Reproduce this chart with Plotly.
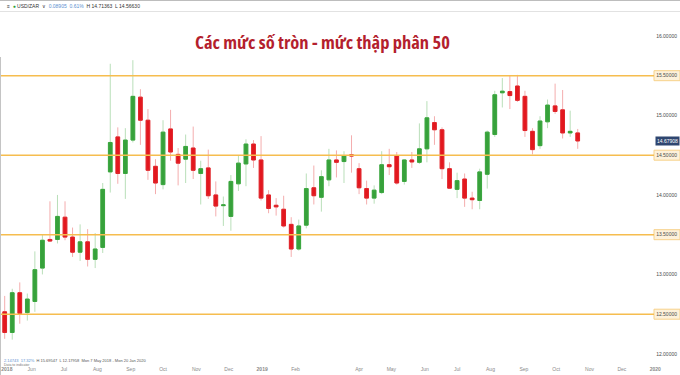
import numpy as np
import pandas as pd
import plotly.graph_objects as go

# ---------------- data (weekly USD/ZAR candles) ----------------
start_date = "2018-05-07"
n_weeks = 77
dates = pd.date_range(start_date, periods=n_weeks, freq="7D")

opens = [12.53, 12.27, 12.77, 12.52, 12.66, 13.08, 13.44, 13.44, 13.72, 13.47,
         13.28, 13.41, 13.19, 13.34, 14.29, 14.73, 14.27, 14.69, 15.23, 14.94,
         14.36, 14.13, 14.83, 14.51, 14.45, 14.59, 14.27, 14.34, 14.00, 13.865,
         13.73, 14.14, 14.39, 14.64, 14.44, 14.00, 13.87, 13.82, 13.63, 13.32,
         13.62, 14.09, 13.97, 14.19, 14.44, 14.42, 14.505, 14.33, 14.08, 13.96,
         14.03, 14.38, 14.49, 14.17, 14.44, 14.41, 14.58, 14.91, 14.82, 14.33,
         14.07, 14.20, 13.96, 13.93, 14.26, 14.76, 15.285, 15.30, 15.37, 15.24,
         14.80, 14.62, 14.92, 15.12, 15.07, 14.78, 14.78]
highs = [12.73, 12.82, 12.90, 12.76, 13.29, 13.50, 13.92, 14.00, 13.92, 13.59,
         13.63, 13.57, 13.52, 14.15, 15.65, 14.85, 14.84, 15.695, 15.33, 15.08,
         14.45, 14.94, 15.07, 14.59, 14.76, 14.86, 14.43, 14.57, 14.17, 13.98,
         14.25, 14.49, 14.70, 14.69, 14.74, 14.06, 13.96, 13.99, 13.72, 13.69,
         14.27, 14.37, 14.31, 14.58, 14.56, 14.55, 14.75, 14.40, 14.18, 14.12,
         14.55, 14.58, 14.54, 14.45, 14.54, 14.90, 15.18, 14.99, 14.85, 14.41,
         14.28, 14.27, 14.04, 14.33, 14.81, 15.31, 15.47, 15.50, 15.51, 15.31,
         14.84, 14.99, 15.20, 15.40, 15.32, 15.06, 14.83]
lows = [12.19, 12.18, 12.38, 12.42, 12.53, 13.00, 13.41, 13.39, 13.43, 13.22,
        13.17, 13.10, 13.08, 13.27, 14.03, 14.14, 13.95, 14.66, 14.63, 14.19,
        14.01, 14.07, 14.43, 14.12, 14.15, 14.20, 13.88, 13.95, 13.73, 13.61,
        13.55, 14.05, 14.11, 14.34, 13.93, 13.77, 13.74, 13.59, 13.22, 13.30,
        13.58, 13.88, 13.79, 14.11, 14.22, 14.15, 14.28, 14.01, 13.88, 13.89,
        14.01, 14.25, 14.13, 14.13, 14.34, 14.39, 14.41, 14.63, 14.20, 14.08,
        13.96, 13.85, 13.82, 13.82, 14.08, 14.73, 15.10, 15.08, 15.17, 14.73,
        14.51, 14.58, 14.84, 15.02, 14.71, 14.73, 14.58]
closes = [12.27, 12.77, 12.51, 12.69, 13.06, 13.43, 13.42, 13.73, 13.47, 13.28,
          13.41, 13.19, 13.32, 14.07, 14.66, 14.27, 14.69, 15.24, 14.94, 14.31,
          14.15, 14.79, 14.54, 14.40, 14.61, 14.31, 14.33, 13.99, 13.86, 13.875,
          14.17, 14.40, 14.64, 14.44, 13.96, 13.83, 13.85, 13.61, 13.32, 13.61,
          14.08, 13.99, 14.23, 14.44, 14.41, 14.49, 14.49, 14.09, 13.96, 14.06,
          14.38, 14.355, 14.15, 14.44, 14.415, 14.58, 14.97, 14.82, 14.33, 14.085,
          14.18, 13.96, 13.94, 14.29, 14.79, 15.26, 15.305, 15.25, 15.19, 14.81,
          14.57, 14.93, 15.13, 15.05, 14.78, 14.80, 14.67908]

round_levels = [12.5, 13.5, 14.5, 15.5]
y_tick_vals = [12.0, 12.5, 13.0, 13.5, 14.0, 14.5, 15.0, 15.5, 16.0]
y_tick_text = ["%.5f" % v for v in y_tick_vals]

x_tick_dates = ["2018-05-09", "2018-06-01", "2018-07-01", "2018-08-01", "2018-09-01",
                "2018-10-01", "2018-11-01", "2018-12-01", "2019-01-01", "2019-02-01",
                "2019-04-01", "2019-05-01", "2019-06-01", "2019-07-01", "2019-08-01",
                "2019-09-01", "2019-10-01", "2019-11-01", "2019-12-01", "2020-01-01"]
x_tick_labels = ["2018", "Jun", "Jul", "Aug", "Sep", "Oct", "Nov", "Dec", "2019", "Feb",
                 "Apr", "May", "Jun", "Jul", "Aug", "Sep", "Oct", "Nov", "Dec", "2020"]

title_text = "Các mức số tròn - mức thập phân 50"

# ---------------- geometry ----------------
W, H = 680, 375
M_T, M_B = 12, 10
plot_h = H - M_T - M_B
px_per_day = 1.0771
first_px = 4.7
t0 = pd.Timestamp(start_date)
x_range = [(t0 - pd.Timedelta(days=first_px / px_per_day)).strftime("%Y-%m-%d %H:%M:%S"),
           (t0 + pd.Timedelta(days=(W - first_px) / px_per_day)).strftime("%Y-%m-%d %H:%M:%S")]
y_range = [11.861, 16.301]
px_per_unit = plot_h / (y_range[1] - y_range[0])


def py(Y):  # pixel row -> paper y
    return (H - M_B - Y) / plot_h


body_hi = np.maximum(opens, closes)
body_lo = np.minimum(opens, closes)

INC_WICK, DEC_WICK = "#b9dfb9", "#f4adae"
INC_FILL, DEC_FILL = "#37a13b", "#e3171e"
INC_EDGE, DEC_EDGE = "#3aa63e", "#e0242a"

fig = go.Figure()
fig.add_trace(go.Candlestick(
    x=dates, open=opens, high=highs, low=lows, close=closes,
    increasing=dict(line=dict(color=INC_WICK, width=1), fillcolor=INC_WICK),
    decreasing=dict(line=dict(color=DEC_WICK, width=1), fillcolor=DEC_WICK),
    whiskerwidth=0, hoverinfo="skip", showlegend=False))
fig.add_trace(go.Candlestick(
    x=dates, open=opens, high=body_hi, low=body_lo, close=closes,
    increasing=dict(line=dict(color=INC_EDGE, width=1), fillcolor=INC_FILL),
    decreasing=dict(line=dict(color=DEC_EDGE, width=1), fillcolor=DEC_FILL),
    whiskerwidth=0, hoverinfo="skip", showlegend=False))

shapes = []
box_left = 654 / W
half_box = 5 / px_per_unit
for lvl in round_levels:
    shapes.append(dict(type="line", xref="paper", yref="y", x0=0, x1=box_left,
                       y0=lvl, y1=lvl, line=dict(color="#f6bd4f", width=1.5),
                       layer="above"))
    shapes.append(dict(type="rect", xref="paper", yref="y", x0=box_left, x1=1.0,
                       y0=lvl - half_box, y1=lvl + half_box,
                       fillcolor="#fdf1da", line=dict(color="#f7d18a", width=1),
                       layer="below"))
# frame lines of the screenshot
shapes.append(dict(type="line", xref="paper", yref="paper", x0=0, x1=1,
                   y0=py(0.5), y1=py(0.5), line=dict(color="#bdbdbd", width=1)))
shapes.append(dict(type="line", xref="paper", yref="paper", x0=0, x1=1,
                   y0=py(11.5), y1=py(11.5), line=dict(color="#e2e2e2", width=1)))
shapes.append(dict(type="line", xref="paper", yref="paper", x0=0.5 / W, x1=0.5 / W,
                   y0=py(57), y1=py(375), line=dict(color="#c4c4c4", width=1)))

annotations = [
    dict(text="<span style='font-stretch:75%'>" + title_text + "</span>",
         xref="paper", yref="paper", x=322 / W, y=py(42),
         xanchor="center", yanchor="middle", showarrow=False,
         font=dict(family="Open Sans, sans-serif",
                   size=18.5, color="#b41f2e", weight="bold")),
    dict(text="≡  <span style='color:#2e9e3a'>●</span> USD/ZAR  ∨  "
              "<span style='color:#5b8fd0'>0.08905  0.61%</span>  H 14.71363  L 14.56630",
         xref="paper", yref="paper", x=5 / W, y=py(6), xanchor="left", yanchor="middle",
         showarrow=False, font=dict(family="Liberation Sans, Arial, sans-serif",
                                    size=5, color="#333333")),
    dict(text="<span style='color:#5b8fd0'>2.14743  17.32%</span>  H 15.69547  L 12.17958  "
              "Mon 7 May 2018 - Mon 20 Jan 2020",
         xref="paper", yref="paper", x=2 / W, y=py(360.5), xanchor="left", yanchor="middle",
         showarrow=False, font=dict(family="Liberation Sans, Arial, sans-serif",
                                    size=4, color="#555555")),
    dict(text="Data to indicator", xref="paper", yref="paper", x=2 / W, y=py(365),
         xanchor="left", yanchor="middle", showarrow=False,
         font=dict(family="Liberation Sans, Arial, sans-serif", size=3.5, color="#777777")),
    dict(text="%.5f" % closes[-1], xref="paper", yref="y", x=1.0, y=closes[-1],
         xanchor="right", yanchor="middle", showarrow=False, bgcolor="#2f4670",
         borderpad=1, font=dict(family="Liberation Sans, Arial, sans-serif",
                                size=5, color="#ffffff")),
]

tick_text_styled = ["<b>%s</b>" % t if t.isdigit() else t for t in x_tick_labels]

fig.update_layout(
    width=W, height=H,
    margin=dict(l=0, r=0, t=M_T, b=M_B, pad=0),
    paper_bgcolor="white", plot_bgcolor="white",
    showlegend=False, shapes=shapes, annotations=annotations,
    font=dict(family="Liberation Sans, Arial, sans-serif"),
    xaxis=dict(type="date", range=x_range, tickmode="array", tickvals=x_tick_dates,
               ticktext=tick_text_styled, showgrid=False, zeroline=False, showline=False,
               ticks="", tickfont=dict(size=5, color="#8a8a8a"),
               rangeslider=dict(visible=False), fixedrange=True),
    yaxis=dict(side="right", ticklabelposition="inside", range=y_range, tickmode="array",
               tickvals=y_tick_vals, ticktext=y_tick_text, showgrid=False, zeroline=False,
               showline=False, ticks="", tickfont=dict(size=5, color="#4a4a4a"),
               fixedrange=True),
)

fig.write_html("out.html")
